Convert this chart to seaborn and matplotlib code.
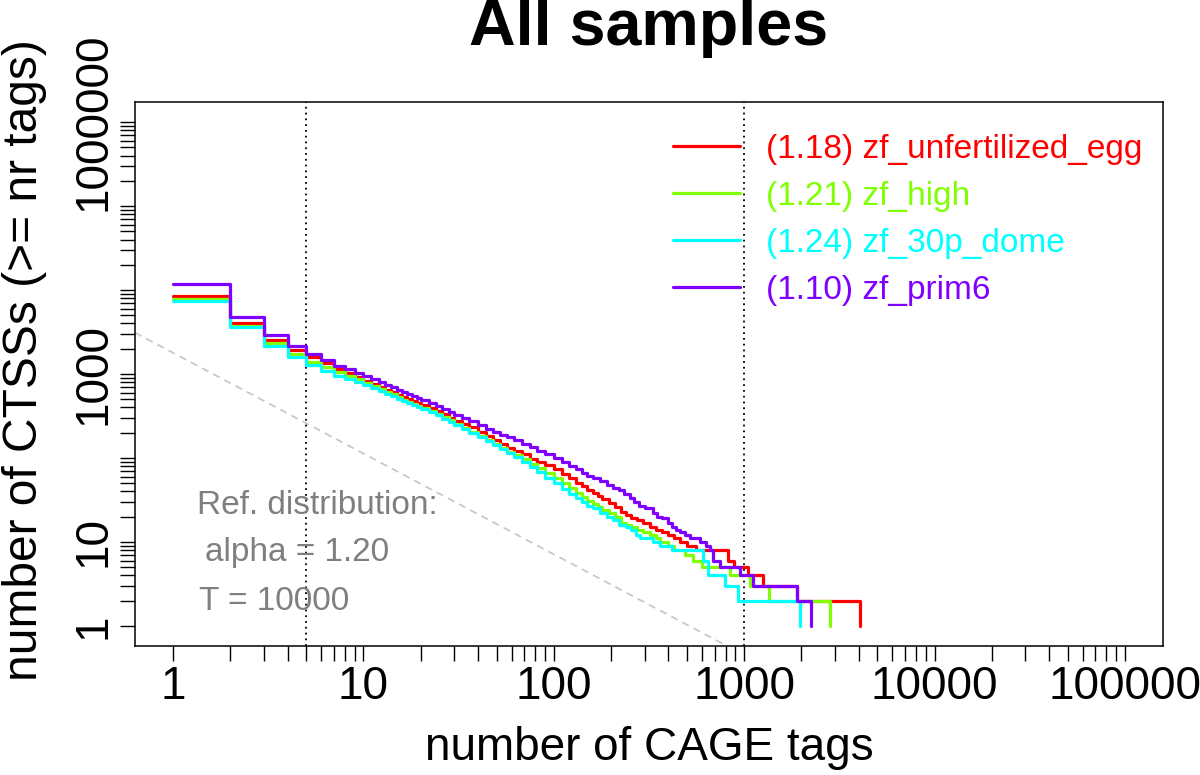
import numpy as np
import pandas as pd
import matplotlib
matplotlib.use("Agg")
import matplotlib.pyplot as plt
from matplotlib.lines import Line2D
import seaborn as sns

# ---------------- data ----------------
samples = ["zf_unfertilized_egg", "zf_high", "zf_30p_dome", "zf_prim6"]
fitted_alpha = ["1.18", "1.21", "1.24", "1.10"]
colors = ["#FF0000", "#80FF00", "#00FFFF", "#8000FF"]

tags_egg = [1, 2, 3, 4, 5, 6, 7, 8, 9, 10, 11, 12, 13, 14, 15, 16, 17, 18, 19, 20,
            22, 24, 26, 28, 30, 33, 36, 40, 44, 48, 52, 57, 62, 68, 75, 82, 90, 100,
            110, 120, 130, 140, 150, 160, 170, 180, 195, 210, 225, 240, 255, 275, 295,
            320, 345, 370, 400, 430, 460, 500, 560, 826, 880, 1050, 1260, 1885, 4058]
ctss_egg = [8500, 4000, 2540, 1930, 1580, 1340, 1150, 1030, 925, 835, 760, 700, 650,
            605, 565, 530, 500, 475, 450, 428, 395, 360, 330, 300, 278, 252, 232, 205,
            182, 162, 148, 133, 121, 110, 98, 90, 82, 73, 64, 57, 51, 46, 42, 38, 35,
            32, 29, 26, 23, 21, 19, 18, 17, 15, 14, 13, 12, 11, 10, 9, 8, 6, 5, 4, 3,
            2, 1]

tags_high = [1, 2, 3, 4, 5, 6, 7, 8, 9, 10, 11, 12, 13, 14, 15, 16, 17, 18, 19, 20,
             22, 24, 26, 28, 30, 33, 36, 40, 44, 48, 52, 57, 62, 68, 75, 82, 90, 100,
             110, 120, 130, 140, 150, 160, 170, 180, 195, 210, 225, 240, 255, 275, 295,
             320, 345, 361, 400, 430, 490, 540, 600, 842, 1071, 1355, 2824]
ctss_high = [7760, 3760, 2320, 1730, 1400, 1220, 1050, 950, 860, 785, 715, 660, 610,
             570, 530, 495, 465, 440, 415, 395, 365, 335, 305, 280, 255, 230, 205, 185,
             165, 145, 130, 118, 108, 97, 85, 75, 66, 57, 50, 44, 38, 34, 31, 28, 26,
             24, 22, 20, 17, 16, 15, 14, 13, 12, 11, 10, 9, 8, 7, 6, 5, 4, 3, 2, 1]

tags_dome = [1, 2, 3, 4, 5, 6, 7, 8, 9, 10, 11, 12, 13, 14, 15, 16, 17, 18, 19, 20,
             22, 24, 26, 28, 30, 33, 36, 40, 44, 48, 52, 57, 62, 68, 75, 82, 90, 100,
             110, 120, 130, 140, 150, 160, 175, 190, 205, 220, 240, 255, 270, 285, 330,
             361, 420, 610, 646, 794, 931, 1963]
ctss_dome = [7340, 3600, 2150, 1580, 1280, 1100, 946, 880, 800, 735, 675, 625, 580,
             545, 510, 480, 450, 425, 405, 385, 352, 322, 295, 270, 248, 222, 200, 180,
             160, 142, 127, 115, 103, 90, 78, 68, 58, 50, 43, 37, 33, 30, 27, 25, 22,
             20, 18, 16, 15, 14, 12, 11, 10, 9, 8, 6, 4, 3, 2, 1]

tags_prim6 = [1, 2, 3, 4, 5, 6, 7, 8, 9, 10, 11, 12, 13, 14, 15, 16, 17, 18, 19, 20,
              22, 24, 26, 28, 30, 33, 36, 40, 44, 48, 52, 57, 62, 68, 75, 82, 90, 100,
              110, 120, 130, 140, 150, 160, 175, 190, 205, 220, 235, 250, 265, 280, 300,
              330, 350, 370, 400, 420, 440, 460, 490, 520, 586, 630, 661, 688, 746, 951,
              1117, 1885, 2244]
ctss_prim6 = [11750, 4730, 2910, 2150, 1715, 1470, 1260, 1150, 1040, 950, 870, 805,
              745, 695, 650, 605, 570, 540, 512, 488, 450, 415, 380, 352, 328, 300, 272,
              245, 222, 203, 190, 176, 162, 148, 134, 122, 111, 100, 90, 81, 74, 67, 61,
              57, 53, 48, 44, 41, 37, 33, 30, 27, 25, 22, 20, 19, 17, 15, 14, 13, 12, 11,
              10, 9, 8, 6, 5, 4, 3, 2, 1]

# reference power-law distribution
ref_alpha = 1.20
ref_T = 10000
zeta_ref_alpha = 5.5916  # Riemann zeta(1.2)

x_major = [1, 10, 100, 1000, 10000, 100000]
x_major_labels = ["1", "10", "100", "1000", "10000", "100000"]
y_major = [1, 10, 100, 1000, 10000, 100000, 1000000]
y_major_labels = ["1", "10", "", "1000", "", "", "1000000"]
vlines_at = [5, 1000]

# ---------------- build long table ----------------
frames = []
for s, t, c in zip(samples,
                   [tags_egg, tags_high, tags_dome, tags_prim6],
                   [ctss_egg, ctss_high, ctss_dome, ctss_prim6]):
    frames.append(pd.DataFrame({"tags": t, "ctss": c, "sample": s}))
df = pd.concat(frames, ignore_index=True)

# ---------------- plotting ----------------
sns.set_theme(style="ticks")
plt.rcParams["font.family"] = ["Liberation Sans", "DejaVu Sans"]
plt.rcParams["axes.linewidth"] = 1.1
for key in ["text.color", "axes.labelcolor", "xtick.color", "ytick.color",
            "axes.edgecolor"]:
    plt.rcParams[key] = "black"

fig = plt.figure(figsize=(12, 7.75), dpi=100)
fig.patch.set_facecolor("white")
ax = fig.add_axes([135 / 1200, 1 - 646 / 775, 1028 / 1200, 544 / 775])
ax.set_xscale("log")
ax.set_yscale("log")

xlim = (10 ** -0.2, 10 ** 5.2)
ylim = (10 ** -0.24, 10 ** 6.24)

# reference line
ref_x = np.array(xlim)
ref_y = ref_T / zeta_ref_alpha * ref_x ** (-ref_alpha)
ax.plot(ref_x, ref_y, color="#C8C8C8", linestyle=(0, (4, 3)), linewidth=1.3, zorder=1)

for v in vlines_at:
    ax.axvline(v, color="black", linestyle=(0, (1, 2.2)), linewidth=1.3, zorder=1)

sns.lineplot(data=df, x="tags", y="ctss", hue="sample", hue_order=samples,
             palette=colors, drawstyle="steps-post", linewidth=2.3,
             estimator=None, sort=True, legend=False, ax=ax, zorder=3)

ax.set_xlim(*xlim)
ax.set_ylim(*ylim)

# ticks
x_minor = [k * 10 ** n for n in range(0, 5) for k in range(2, 10)]
y_minor = [k * 10 ** n for n in range(0, 6) for k in range(2, 10)]
ax.set_xticks(x_major)
ax.set_xticklabels(x_major_labels)
ax.set_xticks(x_minor, minor=True)
ax.set_yticks(y_major)
ax.set_yticklabels(y_major_labels, rotation=90, va="center")
ax.set_yticks(y_minor, minor=True)
ax.xaxis.set_minor_formatter(matplotlib.ticker.NullFormatter())
ax.yaxis.set_minor_formatter(matplotlib.ticker.NullFormatter())
ax.tick_params(which="both", direction="out", length=11, width=1.0, color="black",
               labelsize=33, labelcolor="black", pad=3)
for sp in ax.spines.values():
    sp.set_visible(True)
    sp.set_color("black")

ax.set_xlabel("")
ax.set_ylabel("")
fig.text(649 / 1200, 1 - 748 / 775, "number of CAGE tags", ha="center", va="center",
         fontsize=33, color="black")
fig.text(25 / 1200, 1 - 360 / 775, "number of CTSSs (>= nr tags)", ha="center",
         va="center", rotation=90, fontsize=34.5, color="black")
fig.text(649 / 1200, 1 - 28 / 775, "All samples", ha="center", va="center",
         fontsize=46.5, fontweight="bold", color="black")

# legend
handles = [Line2D([0], [0], color=c, linewidth=2.3) for c in colors]
labels = [f"({a}) {s}" for a, s in zip(fitted_alpha, samples)]
leg = ax.legend(handles, labels, loc="upper left",
                bbox_to_anchor=(673 / 1200, 1 - 134 / 775),
                bbox_transform=fig.transFigure, frameon=False, fontsize=24,
                handlelength=2.0, handletextpad=0.8, labelspacing=0.48,
                borderpad=0, borderaxespad=0)
for txt, c in zip(leg.get_texts(), colors):
    txt.set_color(c)

# reference distribution annotation
grey = "#7F7F7F"
ax.text((197 - 135) / 1028, (646 - 505) / 544, "Ref. distribution:", transform=ax.transAxes,
        ha="left", va="center", fontsize=24, color=grey)
ax.text((205 - 135) / 1028, (646 - 553) / 544, "alpha = 1.20", transform=ax.transAxes,
        ha="left", va="center", fontsize=24, color=grey)
ax.text((199 - 135) / 1028, (646 - 601) / 544, "T = 10000", transform=ax.transAxes,
        ha="left", va="center", fontsize=24, color=grey)

fig.savefig("out.png", dpi=100, facecolor="white")
